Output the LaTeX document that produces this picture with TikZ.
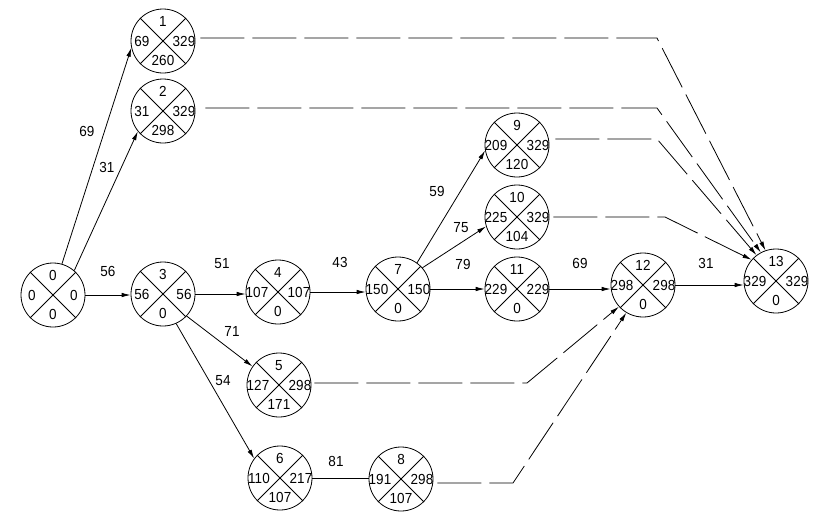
\documentclass[tikz,border=0pt]{standalone}
\usepackage{fontspec}
\setmainfont{Liberation Sans}
\usetikzlibrary{arrows.meta}
\newcommand\evnode[7]{%
  \node[evt] (#1) at (#2,#3) {};
  \draw[plain] (#1.45) -- (#1.225) (#1.135) -- (#1.315);
  \node[num] (#1t) at ([yshift=19.5pt]#1.center) {#4};
  \node[num] (#1l) at ([xshift=-21pt]#1.center) {#5};
  \node[num] (#1r) at ([xshift=21pt]#1.center) {#6};
  \node[num] (#1b) at ([yshift=-19pt]#1.center) {#7};
}
\begin{document}
\begin{tikzpicture}[x=1pt,y=-1pt,
  evt/.style={circle,draw,minimum size=64pt,inner sep=0pt,line width=0.8pt},
  num/.style={font=\fontsize{13.5}{13.5}\selectfont,inner sep=0pt,yscale=1.08},
  lbl/.style={font=\fontsize{13.5}{13.5}\selectfont,inner sep=0pt,yscale=1.08},
  plain/.style={line width=0.8pt},
  act/.style={line width=0.8pt,-{Latex[length=9pt,width=4.5pt]}},
  dum/.style={line width=0.8pt,dash pattern=on 44pt off 8pt,-{Latex[length=9pt,width=4.5pt]}}]
\fill[white] (0,0) rectangle (822,523);
\useasboundingbox (0,0) rectangle (822,523);
\evnode{n0}{53}{295}{0}{0}{0}{0}
\evnode{n1}{163}{41}{1}{69}{329}{260}
\evnode{n2}{163}{111}{2}{31}{329}{298}
\evnode{n3}{163}{294}{3}{56}{56}{0}
\evnode{n4}{278}{292}{4}{107}{107}{0}
\evnode{n5}{279}{385}{5}{127}{298}{171}
\evnode{n6}{280}{478}{6}{110}{217}{107}
\evnode{n7}{398}{289}{7}{150}{150}{0}
\evnode{n8}{401}{479}{8}{191}{298}{107}
\evnode{n9}{517}{145}{9}{209}{329}{120}
\evnode{n10}{517}{217}{10}{225}{329}{104}
\evnode{n11}{517}{289}{11}{229}{229}{0}
\evnode{n12}{643}{285}{12}{298}{298}{0}
\evnode{n13}{776}{281}{13}{329}{329}{0}
% solid activities
\draw[act] (n0.74) -- (n1.192);
\draw[act] (n0.49) -- (n2.219);
\draw[act] (n0.east) -- (n3.west |- n0.east);
\draw[act] (n3.east) -- (n4.west |- n3.east);
\draw[act] (n3.-43) -- (n5.145);
\draw[act] (n3.-66) -- (n6.143);
\draw[act] (n4.east) -- (n7.west |- n4.east);
\draw[act] (n7.54) -- (n9.190);
\draw[act] (n7.41) -- (n10.197);
\draw[act] (n7.east) -- (n11.west |- n7.east);
\draw[act] (n11.east) -- (n12.west |- n11.east);
\draw[act] (n12.east) -- (n13.west |- n12.east);
\draw[plain] (n6.east) -- (n8.west |- n6.east);
% dummy / free-float paths
\coordinate (c1) at (657,38);
\coordinate (c2) at (657,108);
\coordinate (c9) at (657,139);
\coordinate (c10) at (665,217);
\coordinate (c5) at (527,383);
\coordinate (c8) at (513,483);
\draw[dum] ([xshift=5pt]n1.east |- c1) -- (c1) -- (n13.109);
\draw[dum] ([xshift=10pt]n2.east |- c2) -- (c2) -- (n13.118);
\draw[dum] ([xshift=6pt]n9.east |- c9) -- (c9) -- (n13.127);
\draw[dum] ([xshift=4pt]n10.east |- c10) -- (c10) -- (n13.139);
\draw[dum] ([xshift=3pt]n5.east |- c5) -- (c5) -- (n12.222);
\draw[dum] ([xshift=4pt]n8.east |- c8) -- (c8) -- (n12.239);
% activity durations
\node[lbl] (d01) at (87,131) {69};
\node[lbl] (d02) at (107,167) {31};
\node[lbl] (d03) at (108,271) {56};
\node[lbl] (d34) at (222,264) {51};
\node[lbl] (d35) at (232,331) {71};
\node[lbl] (d36) at (223,381) {54};
\node[lbl] (d47) at (340,262) {43};
\node[lbl] (d68) at (336,461) {81};
\node[lbl] (d79) at (437,191) {59};
\node[lbl] (d710) at (461,228) {75};
\node[lbl] (d711) at (463,264) {79};
\node[lbl] (d1112) at (580,263) {69};
\node[lbl] (d1213) at (706,263) {31};
\end{tikzpicture}
\end{document}
